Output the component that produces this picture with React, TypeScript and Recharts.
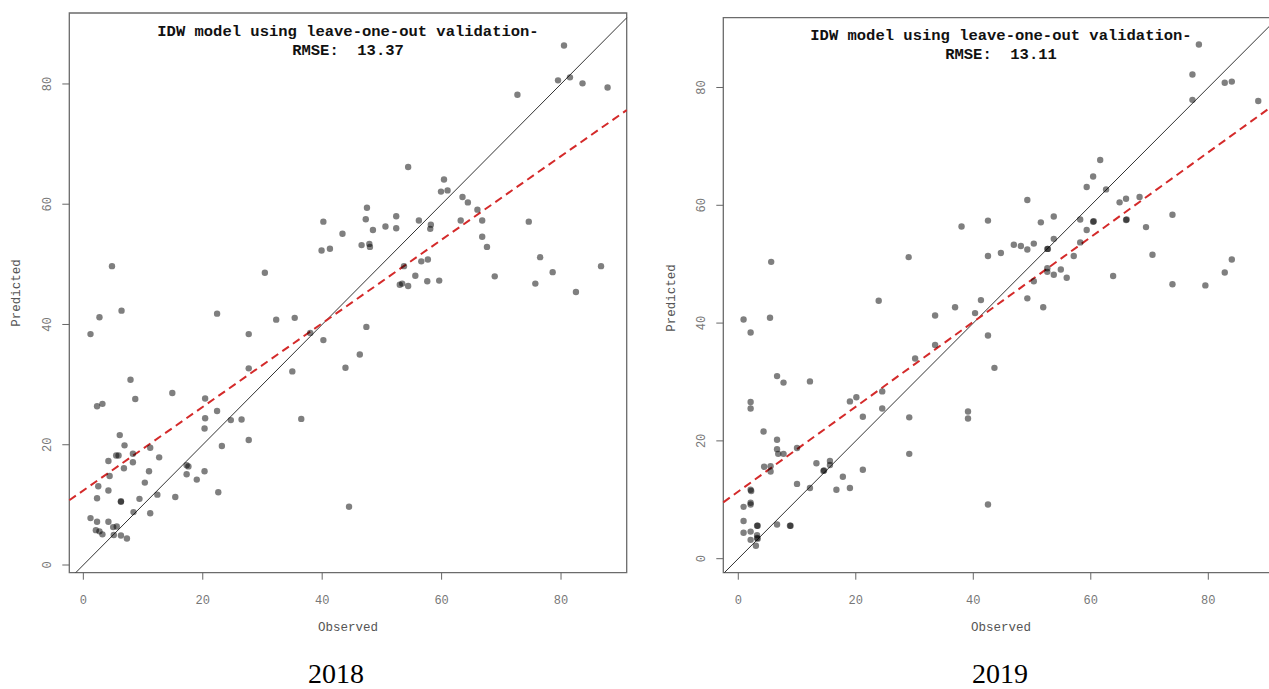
import { ReferenceArea, ReferenceLine, Scatter, ScatterChart, XAxis, YAxis } from 'recharts';

// 2018 leave-one-out validation, observed vs predicted
const observed2018 = [
  4.8, 30.4, 80.5, 79.5, 81.5, 83.6, 87.8, 72.7,
  54.4, 60.4, 59.9, 61.0, 63.5, 64.4, 66.0, 47.5, 47.3, 40.2, 48.5, 50.6, 52.4, 52.4, 56.2, 58.2, 58.1,
  43.4, 39.9, 41.3, 46.6, 47.9, 48.0, 63.2, 66.8, 66.8, 67.6, 74.6, 76.5, 78.6, 75.7, 82.5, 86.7, 68.9,
  53.7, 56.6, 57.7, 55.6, 53.0, 53.4, 54.4, 57.6, 59.6, 47.4,
  1.2, 2.7, 6.4, 22.4, 27.7, 32.3, 35.4, 38.0, 40.2, 43.9, 46.3, 27.7, 35.0, 36.5, 44.5, 7.9, 8.7, 14.9,
  2.3, 3.2, 20.4, 22.4, 20.4, 24.7, 26.5, 20.3, 23.2, 27.7, 6.1, 6.9, 4.2, 5.5, 5.9, 8.3, 8.3, 11.2, 12.7,
  6.8, 4.4, 2.5, 2.3, 4.2, 11.0, 10.3, 9.4, 12.4, 6.3, 6.3, 8.4, 11.2, 15.4, 17.3, 17.6, 17.3, 19.0, 20.3,
  22.6, 1.2, 2.3, 4.2, 2.1, 2.7, 3.2, 5.0, 5.6, 5.1, 6.3, 7.3,
];
const predicted2018 = [
  49.7, 48.6, 86.4, 80.6, 81.1, 80.1, 79.4, 78.2,
  66.2, 64.1, 62.1, 62.3, 61.2, 60.3, 59.1, 59.4, 57.5, 57.1, 55.7, 56.3, 58.0, 56.0, 57.3, 56.6, 55.9,
  55.1, 52.3, 52.6, 53.2, 53.4, 52.9, 57.3, 57.3, 54.6, 52.9, 57.1, 51.2, 48.7, 46.8, 45.4, 49.7, 48.0,
  49.7, 50.5, 50.8, 48.1, 46.6, 46.8, 46.4, 47.2, 47.3, 39.6,
  38.4, 41.2, 42.3, 41.8, 38.4, 40.8, 41.1, 38.6, 37.4, 32.8, 35.0, 32.7, 32.2, 24.3, 9.7, 30.8, 27.6, 28.6,
  26.4, 26.8, 27.7, 25.6, 24.4, 24.1, 24.2, 22.7, 19.8, 20.8, 21.6, 19.9, 17.3, 18.2, 18.2, 18.5, 17.1, 19.5, 17.9,
  16.1, 14.8, 13.1, 11.1, 12.4, 15.6, 13.7, 11.0, 11.7, 10.6, 10.5, 8.8, 8.6, 11.3, 16.6, 16.4, 15.1, 14.2, 15.6,
  12.1, 7.8, 7.2, 7.2, 5.8, 5.6, 5.1, 6.3, 6.4, 5.0, 4.9, 4.4,
];

// 2019 leave-one-out validation
const observed2019 = [
  5.6, 29.0, 78.4, 77.3, 77.3, 82.8, 84.0, 88.5,
  61.6, 60.4, 59.3, 62.6, 49.2, 64.9, 66.0, 68.3, 42.5, 38.0, 51.5, 53.7, 58.2, 60.4, 60.5, 66.0, 66.1,
  69.4, 73.9, 59.3, 53.7, 58.2, 52.6, 52.7, 46.9, 48.1, 49.2, 50.3, 42.5, 44.7, 57.1, 70.5, 52.6, 52.6,
  53.7, 54.9, 55.9, 50.3, 63.8, 73.9, 79.5, 82.8, 84.0, 49.2, 51.9,
  0.9, 2.1, 5.4, 23.9, 33.5, 36.9, 41.3, 40.3, 42.5, 43.6, 33.5, 30.1, 24.5, 24.5, 20.1, 19.0, 21.2, 29.1,
  29.1, 39.1, 39.1, 42.5, 6.6, 7.7, 12.2, 2.1, 2.1, 4.3, 6.6, 6.6, 6.8, 7.7, 10.0, 4.4, 5.5, 5.5, 13.3,
  14.5, 14.6, 15.6, 15.6, 10.0, 12.2, 17.8, 16.7, 19.0, 21.2, 2.1, 2.2, 2.1, 2.1, 0.9, 0.9, 0.9, 2.1, 2.1,
  3.2, 3.3, 3.2, 3.3, 3.2, 3.0, 6.6, 8.8, 8.9,
];
const predicted2019 = [
  50.4, 51.2, 87.3, 82.2, 77.9, 80.8, 81.0, 77.7,
  67.7, 64.9, 63.1, 62.7, 60.9, 60.5, 61.1, 61.4, 57.4, 56.4, 57.1, 58.1, 57.6, 57.2, 57.3, 57.5, 57.6,
  56.3, 58.4, 55.8, 54.3, 53.7, 52.6, 52.6, 53.3, 53.1, 52.5, 53.5, 51.4, 51.9, 51.4, 51.6, 49.3, 48.7,
  48.2, 49.1, 47.7, 47.1, 48.0, 46.6, 46.4, 48.6, 50.8, 44.2, 42.7,
  40.6, 38.4, 40.9, 43.8, 41.3, 42.7, 43.9, 41.7, 37.9, 32.4, 36.3, 34.0, 28.4, 25.5, 27.4, 26.7, 24.1, 24.0,
  17.8, 25.0, 23.8, 9.2, 31.0, 29.9, 30.1, 26.6, 25.5, 21.6, 20.2, 18.6, 17.8, 17.8, 18.8, 15.6, 15.7, 14.8, 16.2,
  14.9, 15.0, 16.6, 15.9, 12.7, 12.0, 13.9, 11.7, 12.0, 15.1, 11.7, 11.5, 9.5, 9.2, 8.8, 6.4, 4.4, 4.6, 3.2,
  5.6, 5.6, 3.5, 3.4, 4.0, 2.2, 5.8, 5.6, 5.6,
];

const fit2018 = { intercept: 12.4, slope: 0.695 };
const fit2019 = { intercept: 11.4, slope: 0.72 };
const rmseValues = ['13.37', '13.11'];
const yearLabels = ['2018', '2019'];
const axisTicks = [0, 20, 40, 60, 80];

const MONO = '"Liberation Mono", "Courier New", monospace';

const Dot = (props: any) => (
  <circle cx={props.cx} cy={props.cy} r={3.2} fill="#000" fillOpacity={0.5} />
);

const XTick = ({ x, y, payload }: any) => (
  <text x={x} y={y + 24} textAnchor="middle" fill="#777" fontFamily={MONO} fontSize={12}>
    {payload.value}
  </text>
);

const YTick = ({ x, y, payload }: any) => (
  <text
    x={x - 11}
    y={y}
    transform={`rotate(-90 ${x - 11} ${y})`}
    textAnchor="middle"
    fill="#777"
    fontFamily={MONO}
    fontSize={12}
  >
    {payload.value}
  </text>
);

function Txt({ x, y, children, style }: any) {
  return (
    <div
      style={{
        position: 'absolute',
        left: x,
        top: y,
        transform: 'translate(-50%, -50%)',
        whiteSpace: 'pre',
        lineHeight: 1,
        ...style,
      }}
    >
      {children}
    </div>
  );
}

type PanelProps = {
  obs: number[];
  pred: number[];
  fit: { intercept: number; slope: number };
  xDomain: [number, number];
  yDomain: [number, number];
  left: number;
  yAxisWidth: number;
  top: number;
  right: number;
};

function Panel({ obs, pred, fit, xDomain, yDomain, left, yAxisWidth, top, right }: PanelProps) {
  const data = obs.map((x, i) => ({ x, y: pred[i] }));
  const lo = Math.max(xDomain[0], yDomain[0]);
  const hi = Math.min(xDomain[1], yDomain[1]);
  return (
    <div style={{ position: 'absolute', left, top: 0 }}>
      <ScatterChart width={640} height={689} margin={{ top, right, bottom: 56.3, left: 0 }}>
        <XAxis
          type="number"
          dataKey="x"
          domain={xDomain}
          allowDataOverflow
          ticks={axisTicks}
          tick={XTick}
          tickSize={7}
          tickMargin={0}
          axisLine={false}
          tickLine={{ stroke: '#666' }}
          height={60}
        />
        <YAxis
          type="number"
          dataKey="y"
          domain={yDomain}
          allowDataOverflow
          ticks={axisTicks}
          tick={YTick}
          tickSize={7}
          tickMargin={0}
          axisLine={false}
          tickLine={{ stroke: '#666' }}
          width={yAxisWidth}
        />
        <ReferenceArea
          x1={xDomain[0]}
          x2={xDomain[1]}
          y1={yDomain[0]}
          y2={yDomain[1]}
          fill="none"
          stroke="#6b6b6b"
          strokeWidth={1.3}
          ifOverflow="visible"
        />
        <Scatter data={data} shape={Dot} isAnimationActive={false} />
        <ReferenceLine
          segment={[{ x: lo, y: lo }, { x: hi, y: hi }]}
          stroke="#333"
          strokeWidth={1}
          ifOverflow="visible"
        />
        <ReferenceLine
          segment={[
            { x: xDomain[0], y: fit.intercept + fit.slope * xDomain[0] },
            { x: xDomain[1], y: fit.intercept + fit.slope * xDomain[1] },
          ]}
          stroke="#d42a2a"
          strokeWidth={2}
          strokeDasharray="8 5"
          ifOverflow="visible"
        />
      </ScatterChart>
    </div>
  );
}

const titleStyle = { fontFamily: MONO, fontWeight: 'bold', fontSize: 15.5, color: '#111' };
const axisTitleStyle = { fontFamily: MONO, fontSize: 12.5, color: '#555' };
const yearStyle = { fontFamily: '"Liberation Serif", "Times New Roman", serif', fontSize: 28, color: '#000' };

export default function App() {
  const centers = [348, 1001];
  const yearX = [336, 1000];
  const tops = [13, 17.7];
  const predictedX = [17, 672];
  return (
    <div
      style={{
        position: 'absolute',
        left: 0,
        top: 0,
        width: 1269,
        height: 689,
        overflow: 'hidden',
        background: '#fff',
      }}
    >
      <Panel
        obs={observed2018}
        pred={predicted2018}
        fit={fit2018}
        xDomain={[-2.35, 91.0]}
        yDomain={[-1.28, 91.8]}
        left={0}
        yAxisWidth={69.3}
        top={13}
        right={13.3}
      />
      <Panel
        obs={observed2019}
        pred={predicted2019}
        fit={fit2019}
        xDomain={[-2.55, 92.0]}
        yDomain={[-2.38, 91.85]}
        left={660}
        yAxisWidth={63.3}
        top={17.7}
        right={21.2}
      />
      {centers.map((cx, i) => (
        <div key={cx}>
          <Txt x={cx} y={tops[i] + 19.5} style={titleStyle}>
            IDW model using leave-one-out validation-
          </Txt>
          <Txt x={cx} y={tops[i] + 38.5} style={titleStyle}>
            {`RMSE:  ${rmseValues[i]}`}
          </Txt>
          <Txt x={cx} y={628} style={axisTitleStyle}>
            Observed
          </Txt>
          <Txt x={predictedX[i]} y={tops[i] + 280} style={{ ...axisTitleStyle, transform: 'translate(-50%, -50%) rotate(-90deg)' }}>
            Predicted
          </Txt>
          <Txt x={yearX[i]} y={674} style={yearStyle}>
            {yearLabels[i]}
          </Txt>
        </div>
      ))}
    </div>
  );
}
